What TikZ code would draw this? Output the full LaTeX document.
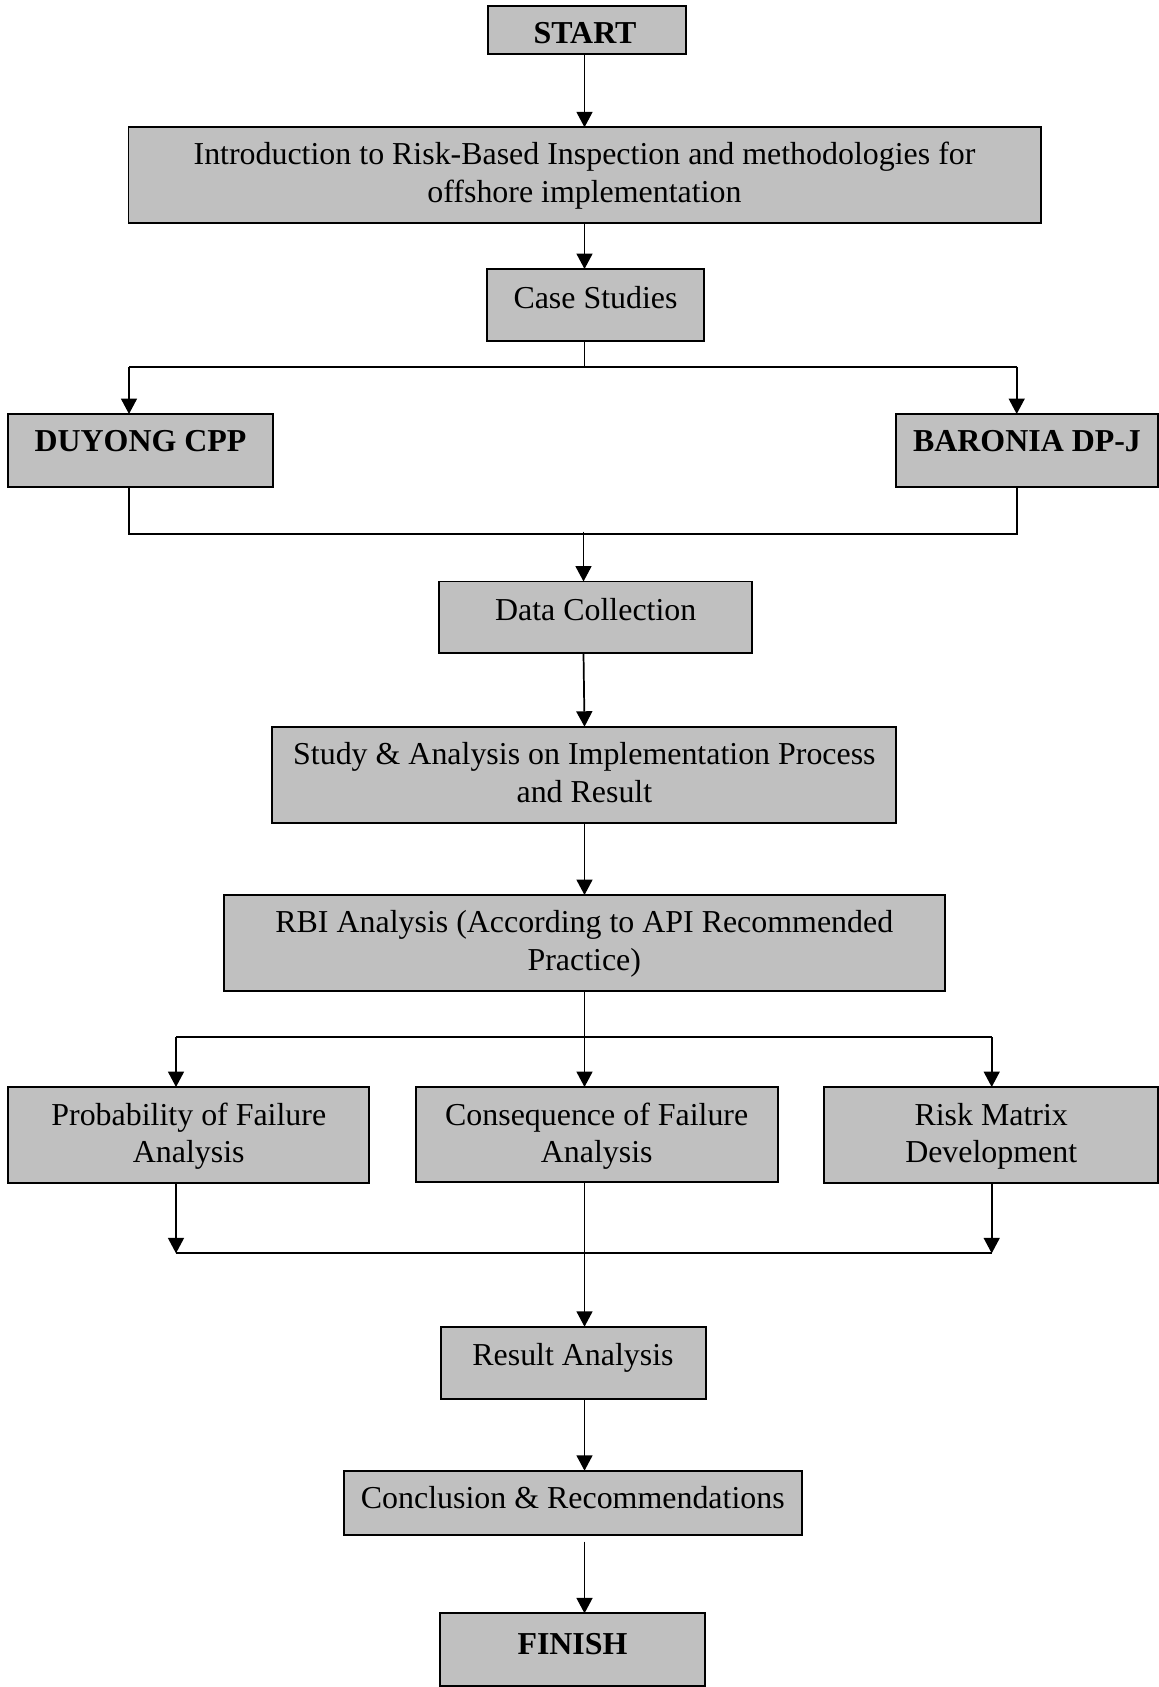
\documentclass[tikz,border=0pt]{standalone}
\usepackage{fontspec}
\setmainfont{Liberation Serif}
\usetikzlibrary{arrows.meta,fit,calc}
\definecolor{boxgray}{HTML}{C0C0C0}
\begin{document}
\begin{tikzpicture}[x=0.376pt,y=-0.376pt,
  box/.style={draw=black, fill=boxgray, line width=0.75pt, inner sep=0pt, outer sep=0pt},
  txt/.style={anchor=base, inner sep=0pt, font=\fontsize{12}{14}\selectfont},
  btxt/.style={txt, font=\fontsize{12}{14}\selectfont\bfseries},
  conn/.style={line width=0.65pt},
  arr/.style={conn, -{Triangle[width=6pt,length=5.8pt]}}]
\useasboundingbox (0,0) rectangle (1159,1687);

% boxes
\node[box, fit={(488,6) (686,54)}] (start) {};
\node[box, fit={(128.5,127.3) (1040.5,223)}] (intro) {};
\node[box, fit={(487,269) (704,341)}] (case) {};
\node[box, fit={(8,414) (273,486.7)}] (duyong) {};
\node[box, fit={(896,414) (1158,486.7)}] (baronia) {};
\node[box, fit={(439,581.5) (752,653.3)}] (data) {};
\node[box, fit={(272.3,726.7) (896.4,822.7)}] (study) {};
\node[box, fit={(223.8,895) (944.8,990.7)}] (rbi) {};
\node[box, fit={(8.3,1087) (369.3,1183)}] (prob) {};
\node[box, fit={(415.7,1087) (777.7,1182)}] (cons) {};
\node[box, fit={(824.3,1087) (1158,1182.7)}] (risk) {};
\node[box, fit={(440.5,1326.7) (705.5,1399)}] (result) {};
\node[box, fit={(344,1470.7) (801.5,1535)}] (concl) {};
\node[box, fit={(440,1613.3) (705,1685.7)}] (finish) {};

% texts
\node[btxt] (startT) at (585,43.3) {START};
\node[txt] (introA) at (584.5,164.5) {Introduction to Risk-Based Inspection and methodologies for};
\node[txt] (introB) at (584.5,202.5) {offshore implementation};
\node[txt] (caseT) at (595.5,308.8) {Case Studies};
\node[btxt] (duyongT) at (140.5,452) {DUYONG CPP};
\node[btxt] (baroniaT) at (1027,452) {BARONIA DP-J};
\node[txt] (dataT) at (595.7,620.5) {Data Collection};
\node[txt] (studyA) at (584.4,764.5) {Study \& Analysis on Implementation Process};
\node[txt] (studyB) at (584.4,802.5) {and Result};
\node[txt] (rbiA) at (584.3,932.2) {RBI Analysis (According to API Recommended};
\node[txt] (rbiB) at (584.3,970) {Practice)};
\node[txt] (probA) at (188.8,1125) {Probability of Failure};
\node[txt] (probB) at (188.8,1162.5) {Analysis};
\node[txt] (consA) at (596.7,1125) {Consequence of Failure};
\node[txt] (consB) at (596.7,1162.5) {Analysis};
\node[txt] (riskA) at (991.2,1125) {Risk Matrix};
\node[txt] (riskB) at (991.2,1162.5) {Development};
\node[txt] (resultT) at (573,1365.5) {Result Analysis};
\node[txt] (conclT) at (572.8,1508.8) {Conclusion \& Recommendations};
\node[btxt] (finishT) at (572.5,1654.3) {FINISH};

% helper coordinates
\coordinate (axis) at (584.5,0);
\coordinate (s1) at (584.5,366.7);
\coordinate (s1L) at (129,366.7);
\coordinate (s1R) at (1016.7,366.7);
\coordinate (m1) at (583.5,534.3);
\coordinate (m1L) at (129,534.3);
\coordinate (m1R) at (1016.7,534.3);
\coordinate (s2) at (584.5,1037.3);
\coordinate (s2L) at (176,1037.3);
\coordinate (s2R) at (991.7,1037.3);
\coordinate (m2L) at (176,1253.3);
\coordinate (m2R) at (991.7,1253.3);

% connectors
\draw[arr] (start.south -| axis) -- (intro.north -| axis);
\draw[arr] (intro.south -| axis) -- (case.north -| axis);
\draw[conn] (case.south -| s1) -- (s1);
\draw[conn] (s1L) -- (s1R);
\draw[arr] (s1L) -- (s1L |- duyong.north);
\draw[arr] (s1R) -- (s1R |- baronia.north);
\draw[conn] (duyong.south -| m1L) -- (m1L) -- (m1R) -- (baronia.south -| m1R);
\draw[arr] ($(m1)+(0,-2.6)$) -- (data.north -| m1);
\draw[arr] (data.south -| m1) -- (study.north -| axis);
\draw[arr] (study.south -| axis) -- (rbi.north -| axis);
\draw[arr] (rbi.south -| axis) -- (cons.north -| axis);
\draw[conn] (s2L) -- (s2R);
\draw[arr] (s2L) -- (s2L |- prob.north);
\draw[arr] (s2R) -- (s2R |- risk.north);
\draw[arr] (prob.south -| m2L) -- (m2L);
\draw[arr] (risk.south -| m2R) -- (m2R);
\draw[conn] (m2L) -- (m2R);
\draw[arr] (cons.south -| axis) -- (result.north -| axis);
\draw[arr] (result.south -| axis) -- (concl.north -| axis);
\draw[arr] ($(concl.south -| axis)+(0,6.7)$) -- (finish.north -| axis);
\end{tikzpicture}
\end{document}
